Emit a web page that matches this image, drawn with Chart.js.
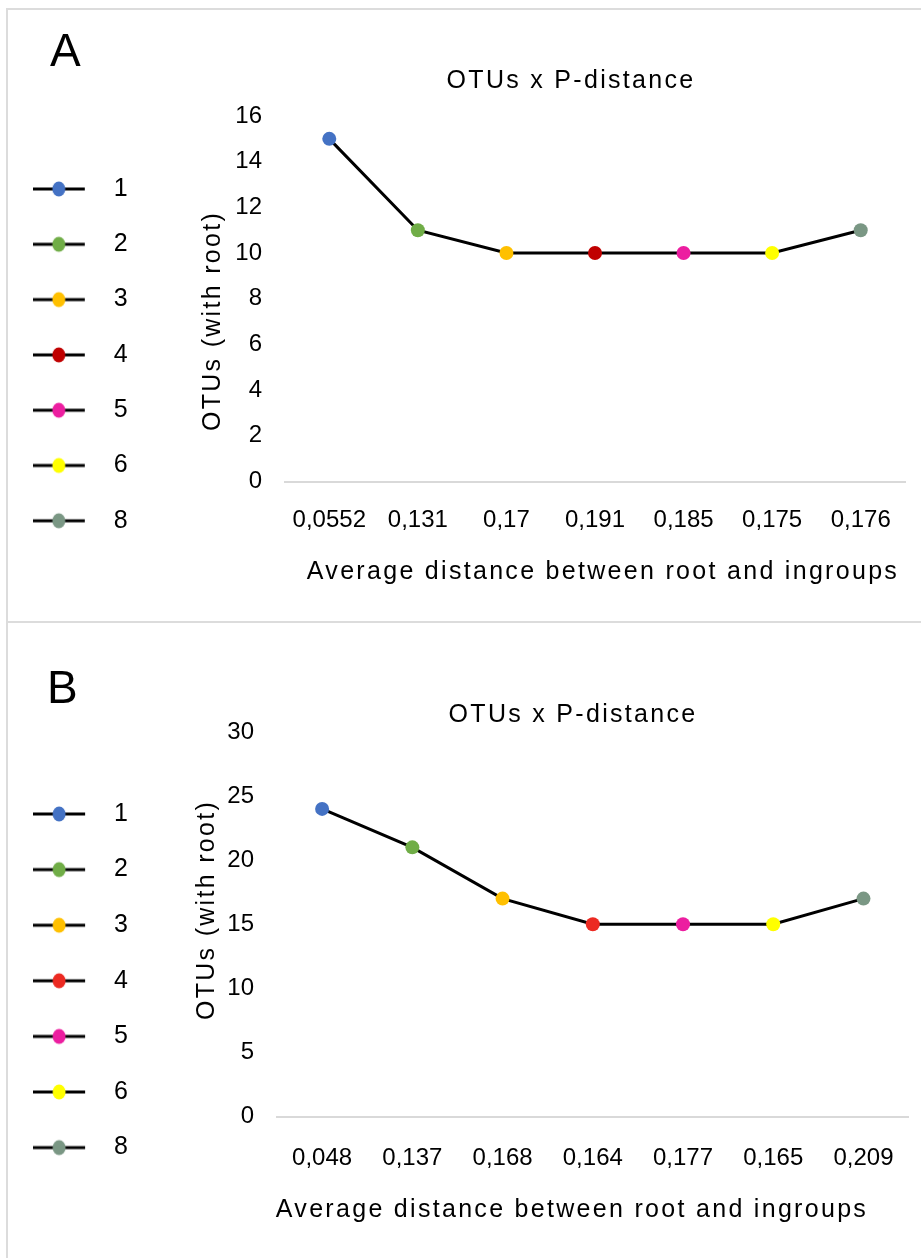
<!DOCTYPE html>
<html>
<head>
<meta charset="utf-8">
<script src="https://cdn.jsdelivr.net/npm/chart.js@4.4.1/dist/chart.umd.min.js"></script>
<style>
    body { margin: 0; background: #fff; }
    #page { position: relative; width: 921px; height: 1258px; overflow: hidden; }
    .frame { position: absolute; left: 6px; top: 8px; width: 930px; height: 1270px;
             border-left: 2px solid #dcdcdc; border-top: 2px solid #dcdcdc; }
    .sep { position: absolute; left: 6px; top: 621px; width: 930px; height: 2px; background: #dcdcdc; }
    canvas { position: absolute; left: 0; }
    #chartA { top: 0; }
    #chartB { top: 622px; }
</style>
</head>
<body>
<div id="page">
    <div class="frame"></div>
    <div class="sep"></div>
    <canvas id="chartA" width="921" height="621"></canvas>
    <canvas id="chartB" width="921" height="636"></canvas>
</div>
<script>
    const groups = ['1', '2', '3', '4', '5', '6', '8'];

    const distA = ['0,0552', '0,131', '0,17', '0,191', '0,185', '0,175', '0,176'];
    const otusA = [15, 11, 10, 10, 10, 10, 11];
    const colorsA = ['#4472C4', '#70AD47', '#FFC000', '#C00000', '#EC1EA0', '#FFFF00', '#7A9784'];

    const distB = ['0,048', '0,137', '0,168', '0,164', '0,177', '0,165', '0,209'];
    const otusB = [24, 21, 17, 15, 15, 15, 17];
    const colorsB = ['#4472C4', '#70AD47', '#FFC000', '#EC2A22', '#EC1EA0', '#FFFF00', '#7A9784'];

    const FONT = '"Liberation Sans", Arial, sans-serif';

    // legend marker: short black line with a coloured dot (line 0..52, dot at 26)
    function legendMarker(color) {
        const c = document.createElement('canvas');
        c.width = 66;
        c.height = 18;
        const g = c.getContext('2d');
        g.strokeStyle = '#000';
        g.lineWidth = 3;
        g.beginPath();
        g.moveTo(0, 9);
        g.lineTo(52, 9);
        g.stroke();
        g.fillStyle = color;
        g.beginPath();
        g.ellipse(26, 9, 6.5, 7.5, 0, 0, Math.PI * 2);
        g.fill();
        return c;
    }

    const panelText = {
        id: 'panelText',
        afterDraw(chart, args, o) {
            const ctx = chart.ctx;
            ctx.save();
            ctx.fillStyle = '#000';
            ctx.textBaseline = 'alphabetic';
            ctx.textAlign = 'left';
            ctx.font = '46px ' + FONT;
            ctx.fillText(o.letter, o.letterX, o.letterY);

            ctx.font = '25px ' + FONT;
            ctx.letterSpacing = '2.3px';
            ctx.textAlign = 'center';
            ctx.fillText('OTUs x P-distance', o.titleX, o.titleY);
            ctx.fillText('Average distance between root and ingroups', o.xTitleX, o.xTitleY);
            ctx.translate(o.yTitleX, o.yTitleY);
            ctx.rotate(-Math.PI / 2);
            ctx.fillText('OTUs (with root)', 0, 0);
            ctx.restore();
        }
    };

    function makeChart(id, labels, values, colors, yMax, yStep, box) {
        return new Chart(document.getElementById(id), {
            type: 'line',
            data: {
                labels: labels,
                datasets: [{
                    label: '',
                    data: values,
                    borderColor: '#000',
                    borderWidth: 3,
                    tension: 0,
                    pointRadius: 7,
                    pointHoverRadius: 7,
                    pointBorderWidth: 0,
                    pointBackgroundColor: colors
                }]
            },
            options: {
                responsive: false,
                animation: false,
                layout: { padding: { top: box.top, left: 0, right: box.right, bottom: 0 } },
                scales: {
                    x: {
                        offset: true,
                        grid: { display: false, drawTicks: false },
                        border: { display: true, color: '#d9d9d9', width: 2 },
                        ticks: {
                            color: '#000',
                            font: { family: FONT, size: 24 },
                            padding: box.xPad,
                            autoSkip: false,
                            maxRotation: 0
                        },
                        afterFit: function (s) { s.height = box.xHeight; }
                    },
                    y: {
                        min: 0,
                        max: yMax,
                        grid: { display: false, drawTicks: false },
                        border: { display: false },
                        ticks: {
                            stepSize: yStep,
                            color: '#000',
                            font: { family: FONT, size: 24 },
                            padding: 23
                        },
                        afterFit: function (s) {
                            const lw = s.chart.legend ? s.chart.legend.width : 138;
                            s.width = box.left - lw;
                        }
                    }
                },
                plugins: {
                    tooltip: { enabled: false },
                    legend: {
                        position: 'left',
                        align: 'start',
                        title: {
                            display: true,
                            text: '',
                            font: { size: 10, lineHeight: 1 },
                            padding: { top: box.legendTop, bottom: 0 }
                        },
                        labels: {
                            usePointStyle: true,
                            pointStyleWidth: 71,
                            padding: box.legendPad,
                            color: '#000',
                            font: { family: FONT, size: 25 },
                            generateLabels: function () {
                                return groups.map(function (g, i) {
                                    return {
                                        text: g,
                                        fontColor: '#000',
                                        pointStyle: legendMarker(colors[i]),
                                        fillStyle: colors[i],
                                        strokeStyle: '#000',
                                        lineWidth: 0,
                                        hidden: false,
                                        datasetIndex: 0
                                    };
                                });
                            }
                        }
                    },
                    panelText: box.text
                }
            },
            plugins: [panelText]
        });
    }

    makeChart('chartA', distA, otusA, colorsA, 16, 2, {
        top: 116, right: 16, left: 285, xHeight: 139.5, xPad: 24,
        legendTop: 20.2, legendPad: 30.3,
        text: { letter: 'A', letterX: 50, letterY: 66, titleX: 571, titleY: 88,
                xTitleX: 603, xTitleY: 579, yTitleX: 220, yTitleY: 321 }
    });

    makeChart('chartB', distB, otusB, colorsB, 30, 5, {
        top: 110, right: 7, left: 277, xHeight: 141.5, xPad: 27,
        legendTop: 28.9, legendPad: 30.6,
        text: { letter: 'B', letterX: 47, letterY: 81, titleX: 573, titleY: 99.5,
                xTitleX: 572, xTitleY: 595, yTitleX: 213.5, yTitleY: 288 }
    });
</script>
</body>
</html>
